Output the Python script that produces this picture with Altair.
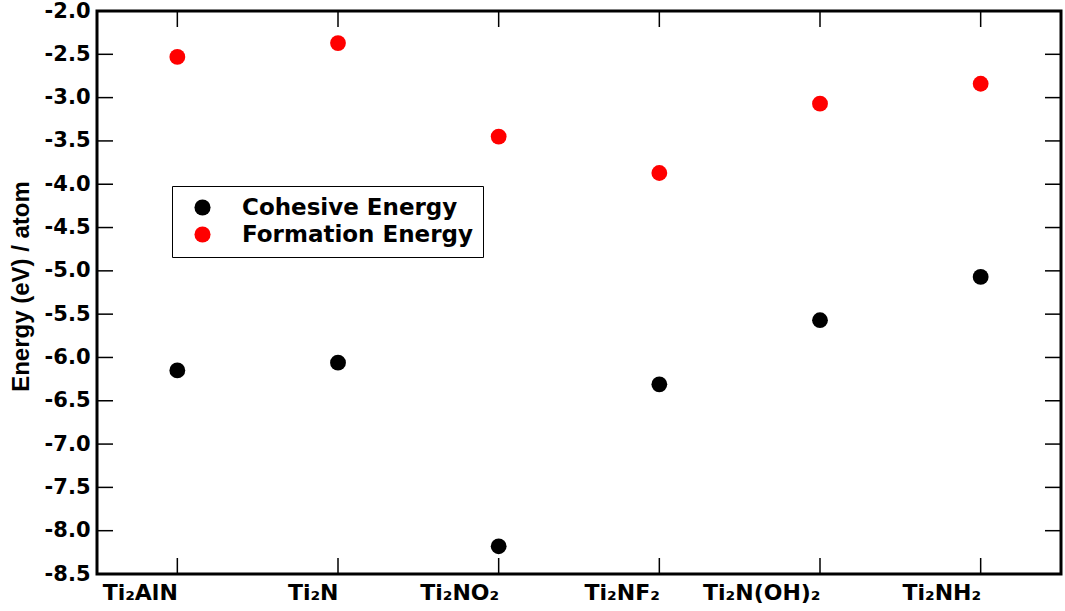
import altair as alt
import pandas as pd

categories = ["Ti₂AlN", "Ti₂N", "Ti₂NO₂", "Ti₂NF₂", "Ti₂N(OH)₂", "Ti₂NH₂"]
cohesive = [-6.15, -6.06, -8.18, -6.31, -5.57, -5.07]
formation = [-2.53, -2.37, -3.45, -3.87, -3.07, -2.84]
series_names = ["Cohesive Energy", "Formation Energy"]
series_colors = ["#000000", "#ff0000"]
y_ticks = [-8.5, -8.0, -7.5, -7.0, -6.5, -6.0, -5.5, -5.0, -4.5, -4.0, -3.5, -3.0, -2.5, -2.0]

W, H = 964, 563
TICK = 16

rows = []
for c, v in zip(categories, cohesive):
    rows.append({"cat": c, "val": v, "series": series_names[0]})
for c, v in zip(categories, formation):
    rows.append({"cat": c, "val": v, "series": series_names[1]})
df = pd.DataFrame(rows)
ydf = pd.DataFrame({"t": y_ticks})
xdf = pd.DataFrame({"cat": categories})

xscale = alt.Scale(domain=categories, type="point", padding=0.5)
yscale = alt.Scale(domain=[-8.5, -2.0], nice=False, zero=False)

xenc = alt.X("cat:N", scale=xscale, sort=categories,
             axis=alt.Axis(title=None, ticks=False, tickSize=0, domain=False, grid=False,
                           labelAngle=0, labelPadding=18, labelFontSize=22,
                           labelFont="DejaVu Sans", labelFontWeight="bold", labelColor="black"))

points = alt.Chart(df).mark_circle(size=250, opacity=1).encode(
    x=xenc,
    y=alt.Y("val:Q", scale=yscale,
            axis=alt.Axis(title="Energy (eV) / atom", values=y_ticks,
                          labelExpr="replace(format(datum.value, '.1f'), '\u2212', '-')",
                          ticks=False, tickSize=0, domain=False, grid=False,
                          labelPadding=7, labelFontSize=21, labelFont="DejaVu Sans",
                          labelFontWeight="bold", labelColor="black",
                          titleFont="Liberation Sans", titleFontSize=24,
                          titleFontWeight="bold", titlePadding=11, titleColor="black",
                          titleY=275, titleAnchor="middle")),
    color=alt.Color("series:N",
                    scale=alt.Scale(domain=series_names, range=series_colors),
                    legend=alt.Legend(title=None, orient="none", legendX=75, legendY=175,
                                      strokeColor="black", fillColor="white", padding=10,
                                      labelFont="DejaVu Sans", labelFontSize=23,
                                      labelFontWeight="bold", labelColor="black",
                                      labelLimit=400,
                                      symbolSize=260, symbolType="circle",
                                      symbolStrokeWidth=0, labelOffset=28,
                                      symbolOffset=9, rowPadding=3)),
)

ytick_l = alt.Chart(ydf).mark_rule(color="black", strokeWidth=1.5).encode(
    y=alt.Y("t:Q", scale=yscale), x=alt.value(0), x2=alt.value(TICK))
ytick_r = alt.Chart(ydf).mark_rule(color="black", strokeWidth=1.5).encode(
    y=alt.Y("t:Q", scale=yscale), x=alt.value(W - TICK), x2=alt.value(W))
xtick_b = alt.Chart(xdf).mark_rule(color="black", strokeWidth=1.5).encode(
    x=alt.X("cat:N", scale=xscale, sort=categories), y=alt.value(H - TICK), y2=alt.value(H))
xtick_t = alt.Chart(xdf).mark_rule(color="black", strokeWidth=1.5).encode(
    x=alt.X("cat:N", scale=xscale, sort=categories), y=alt.value(0), y2=alt.value(TICK))

chart = alt.layer(ytick_l, ytick_r, xtick_b, xtick_t, points).properties(
    width=W, height=H,
    autosize=alt.AutoSizeParams(type="none"),
    padding={"left": 97, "top": 11, "right": 4, "bottom": 37},
    background="white",
).configure_view(stroke="black", strokeWidth=3)

chart.save("out.html", embed_options={"renderer": "svg", "actions": False})
